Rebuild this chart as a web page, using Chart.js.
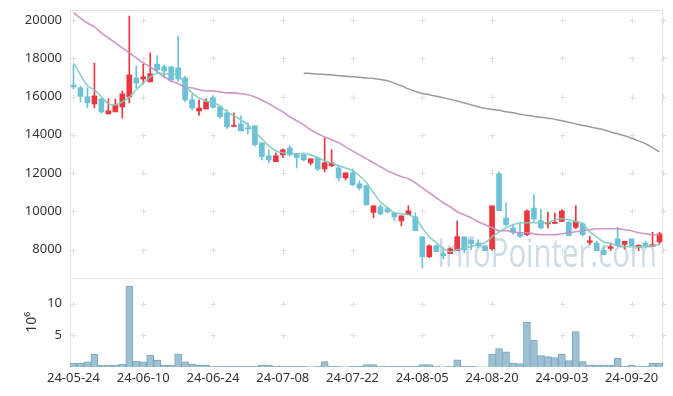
<!DOCTYPE html>
<html>
<head>
<meta charset="utf-8">
<script src="https://cdn.jsdelivr.net/npm/chart.js@4.4.1/dist/chart.umd.min.js"></script>
<style>
  html, body { margin: 0; padding: 0; background: #fff; }
  #wrap { position: relative; width: 673px; height: 396px; }
</style>
</head>
<body>
<div id="wrap"><canvas id="chart"></canvas></div>
<script>
/* ===== Daily candles + MA lines + volume panel ===== */
const dates = [
  "24-05-24","24-05-27","24-05-28","24-05-29","24-05-30","24-05-31","24-06-03","24-06-04","24-06-05","24-06-07",
  "24-06-10","24-06-11","24-06-12","24-06-13","24-06-14","24-06-17","24-06-18","24-06-19","24-06-20","24-06-21",
  "24-06-24","24-06-25","24-06-26","24-06-27","24-06-28","24-07-01","24-07-02","24-07-03","24-07-04","24-07-05",
  "24-07-08","24-07-09","24-07-10","24-07-11","24-07-12","24-07-15","24-07-16","24-07-17","24-07-18","24-07-19",
  "24-07-22","24-07-23","24-07-24","24-07-25","24-07-26","24-07-29","24-07-30","24-07-31","24-08-01","24-08-02",
  "24-08-05","24-08-06","24-08-07","24-08-08","24-08-09","24-08-12","24-08-13","24-08-14","24-08-16","24-08-19",
  "24-08-20","24-08-21","24-08-22","24-08-23","24-08-26","24-08-27","24-08-28","24-08-29","24-08-30","24-09-02",
  "24-09-03","24-09-04","24-09-05","24-09-06","24-09-09","24-09-10","24-09-11","24-09-12","24-09-13","24-09-19",
  "24-09-20","24-09-23","24-09-24","24-09-25","24-09-26"
];

const openP = [
  16600,16450,15980,15610,15880,15090,15200,15460,15980,16970,
  16920,16760,17700,17550,17550,17500,16970,15820,15250,15350,
  15930,15460,15150,14440,14570,14360,14470,13580,12900,12590,
  12950,13320,13010,12950,12530,12800,12220,12380,12270,11750,
  12010,11440,11340,9950,10240,10130,9920,9500,9820,9710,
  8670,7630,8200,7790,7790,7950,8670,8510,8360,8200,
  8040,11960,9650,9130,8900,8780,10170,9520,9340,9370,
  9470,9420,9160,9350,8380,8340,7960,8060,8570,8270,
  8570,8140,8340,8170,8400
];
const highP = [
  17650,16550,16450,17750,15900,15880,15880,16300,20200,17600,
  17700,18280,18130,17650,17550,19160,17050,16100,15820,15880,
  16030,15500,15300,15150,14990,14620,14470,13580,13220,13060,
  13270,13430,13010,13060,12740,12850,13840,13220,12430,12010,
  12220,11600,11340,10290,10340,10240,9920,9770,10290,9920,
  8670,8250,8250,8100,8090,9510,8670,8510,8510,8200,
  10290,12070,10450,9340,9400,10080,10870,10120,9960,9910,
  10080,9470,10290,9400,8690,8430,8200,8340,9160,8430,
  8570,8250,8430,8900,8900
];
const lowP = [
  16400,15720,15400,15400,15130,15090,15200,14870,15670,16450,
  16660,16760,17230,17000,16760,16800,15720,15300,15010,15350,
  15400,14870,14330,14440,14200,14050,13400,12690,12530,12590,
  12800,12900,12270,12640,12430,12120,12060,12330,11590,11640,
  11330,11120,10340,9660,9810,9920,9500,9240,9820,8990,
  7050,7580,7890,7520,7790,7950,7840,7990,8100,7950,
  7990,10030,9250,8800,8620,8730,9470,9080,9130,9370,
  9470,8730,9100,8700,8260,7940,7730,7960,8150,8030,
  8200,7940,8110,8170,8290
];
const closeP = [
  16500,16000,15670,16030,15200,15250,15560,16140,17130,16710,
  17030,17180,17390,17340,16870,16920,15820,15400,15400,15720,
  15430,14940,14420,14470,14200,14310,13480,12850,12690,12900,
  13210,12950,12800,12690,12740,12220,12530,12530,11750,12010,
  11390,11230,10340,10290,9870,9970,9710,9770,10030,8990,
  7630,8200,7890,7680,8040,8680,7990,8310,8200,7950,
  10290,10030,9300,8900,8690,10030,9600,9130,9420,9420,
  10030,8730,9470,8780,8460,7940,7730,8140,8200,8430,
  8200,8220,8200,8260,8830
];

const ma5 = [
  17740,17130,16560,16350,15980,15620,15560,15720,15980,16350,
  16710,17030,17230,17180,17180,17130,16610,16190,15930,15770,
  15670,15510,15200,14990,14780,14520,14150,13790,13420,13160,
  13060,13010,13010,13010,12950,12800,12640,12540,12380,12270,
  12120,11860,11490,10970,10500,10190,9930,9870,9820,9660,
  9140,8670,8360,8050,7890,7990,8100,8150,8260,8360,
  8670,8930,9140,9300,9400,9400,9400,9400,9400,9560,
  9610,9560,9460,9350,8930,8670,8410,8310,8200,8150,
  8150,8150,8150,8200,8260
];
const ma20 = [
  20380,20100,19840,19640,19320,19060,18800,18540,18280,18020,
  17760,17550,17290,17030,16820,16660,16500,16450,16350,16290,
  16290,16240,16190,16190,16140,16090,15980,15820,15620,15410,
  15200,14940,14730,14520,14260,14050,13890,13740,13580,13370,
  13160,12950,12740,12540,12330,12120,11960,11810,11700,11490,
  11230,10970,10710,10450,10240,9980,9820,9660,9460,9300,
  9140,8990,8990,8930,8880,8880,8830,8780,8780,8780,
  8830,8880,8930,8990,9040,9090,9090,9090,9090,9040,
  8990,8880,8830,8780,8780
];
const ma60 = [
  null,null,null,null,null,null,null,null,null,null,
  null,null,null,null,null,null,null,null,null,null,
  null,null,null,null,null,null,null,null,null,null,
  null,null,null,17220,17200,17180,17150,17120,17090,17060,
  17030,17000,16970,16940,16890,16820,16690,16560,16400,16270,
  16160,16090,16010,15930,15850,15770,15670,15560,15460,15380,
  15330,15280,15200,15150,15070,15020,14960,14910,14860,14810,
  14730,14650,14570,14490,14420,14340,14260,14150,14050,13950,
  13820,13680,13530,13320,13110
];

// volume, millions of shares
const volume = [
  0.63,0.63,0.8,2.05,0.3,0.3,0.3,0.45,12.8,0.95,
  0.8,1.9,1.1,0.3,0.3,2.05,0.8,0.45,0.3,0.3,
  0.15,0.15,0.15,0.15,0.15,0.15,0.15,0.3,0.3,0.15,
  0.15,0.15,0.15,0.15,0.01,0.15,0.85,0.15,0.15,0.01,
  0.15,0.15,0.37,0.37,0.15,0.15,0.15,0.15,0.15,0.15,
  0.37,0.37,0.15,0.01,0.15,1.15,0.15,0.15,0.01,0.01,
  2.05,2.9,2.4,0.63,0.53,7.1,4.26,1.8,1.63,1.47,
  2.05,1.0,5.58,0.84,0.32,0.32,0.32,0.32,1.42,0.15,
  0.32,0.15,0.15,0.63,0.63
];

const priceTicks = [8000, 10000, 12000, 14000, 16000, 18000, 20000];
const volumeTicks = [5, 10];

const RED = "#ea363c", BLUE = "#6cc1d9";
const FONT = "'Noto Sans', 'DejaVu Sans', sans-serif";
const candleColor = closeP.map((c, i) => (c >= openP[i] ? RED : BLUE));

// faint frame + "+" markers where ticks cross, plus the site watermark
const decor = {
  id: "decor",
  beforeDatasetsDraw(chart) {
    const { ctx, chartArea: a, scales } = chart;
    const py = scales.y, vy = scales.yv, sx = scales.x;
    ctx.save();
    ctx.lineWidth = 1;
    ctx.strokeStyle = "#e4e4e4";
    ctx.beginPath();
    ctx.moveTo(a.left + 0.5, a.top); ctx.lineTo(a.left + 0.5, a.bottom);
    ctx.moveTo(a.right - 0.5, a.top); ctx.lineTo(a.right - 0.5, a.bottom);
    ctx.moveTo(a.left, a.top + 0.5); ctx.lineTo(a.right, a.top + 0.5);
    ctx.moveTo(a.left, Math.round(py.bottom) + 0.5); ctx.lineTo(a.right, Math.round(py.bottom) + 0.5);
    ctx.stroke();

    const xs = dates.map((d, i) => i).filter((i) => i % 10 === 0).map((i) => sx.getPixelForValue(i));
    xs.push(a.right);
    const ys = priceTicks.map((v) => py.getPixelForValue(v)).concat(volumeTicks.map((v) => vy.getPixelForValue(v)));
    ctx.strokeStyle = "#e0e0e0";
    ctx.beginPath();
    xs.forEach((x) => ys.forEach((y) => {
      const cx = Math.round(x) + 0.5, cy = Math.round(y) + 0.5;
      ctx.moveTo(cx - 3, cy); ctx.lineTo(cx + 3, cy);
      ctx.moveTo(cx, cy - 3); ctx.lineTo(cx, cy + 3);
    }));
    ctx.stroke();

    // watermark
    const text = "InfoPointer.com";
    ctx.font = "40px 'Open Sans', sans-serif";
    const w = ctx.measureText(text).width;
    ctx.translate(a.right - 6, py.bottom - 11);
    ctx.scale(220 / w, 1);
    ctx.textAlign = "right";
    ctx.textBaseline = "alphabetic";
    ctx.fillStyle = "rgba(170,198,215,0.6)";
    ctx.fillText(text, 0, 0);
    ctx.restore();
  },
};

const tickFont = { family: FONT, size: 13 };
const noGrid = { display: false, drawTicks: false };
const fixY = (s) => { s.width = 70; s.paddingTop = 0; s.paddingBottom = 0; };

new Chart(document.getElementById("chart"), {
  data: {
    labels: dates,
    datasets: [
      { type: "line", label: "MA5", data: ma5, yAxisID: "y", order: 0,
        borderColor: "rgba(128,203,190,0.9)", borderWidth: 1.6, pointRadius: 0, tension: 0.35 },
      { type: "line", label: "MA20", data: ma20, yAxisID: "y", order: 0,
        borderColor: "rgba(200,140,200,0.9)", borderWidth: 1.6, pointRadius: 0, tension: 0.35 },
      { type: "line", label: "MA60", data: ma60, yAxisID: "y", order: 0,
        borderColor: "#9a9a9a", borderWidth: 1.5, pointRadius: 0, tension: 0.35 },
      { type: "bar", label: "range", data: lowP.map((l, i) => [l, highP[i]]), yAxisID: "y", order: 2,
        backgroundColor: candleColor, barThickness: 1, grouped: false },
      { type: "bar", label: "body", data: openP.map((o, i) => [o, closeP[i]]), yAxisID: "y", order: 1,
        backgroundColor: candleColor, barThickness: 5, minBarLength: 1, grouped: false },
      { type: "bar", label: "volume", data: volume, yAxisID: "yv", order: 3,
        backgroundColor: "#9dc1d2", borderColor: "#7aa6bc", borderWidth: 1,
        barPercentage: 1, categoryPercentage: 1, grouped: false },
    ],
  },
  options: {
    responsive: true, maintainAspectRatio: false, animation: false,
    layout: { padding: { top: 10, right: 10, left: 0, bottom: 0 } },
    plugins: { legend: { display: false }, tooltip: { enabled: false } },
    scales: {
      x: {
        offset: true,
        grid: noGrid, border: { display: false },
        ticks: { autoSkip: false, maxRotation: 0, minRotation: 0, padding: 3, color: "#333", font: tickFont,
          callback: (v, i) => (i % 10 === 0 ? dates[i] : null) },
        afterFit: (s) => { s.height = 29; },
      },
      yv: {
        position: "left", stack: "panels", stackWeight: 1, min: 0, max: 14.1,
        grid: noGrid, border: { display: false },
        ticks: { padding: 8, color: "#333", font: tickFont, callback: (v) => String(v) },
        afterBuildTicks: (s) => { s.ticks = volumeTicks.map((v) => ({ value: v })); },
        title: { display: true, text: "10⁶", color: "#333", font: { family: FONT, size: 14 }, padding: { top: 24, bottom: 0 } },
        afterFit: fixY,
      },
      y: {
        position: "left", stack: "panels", stackWeight: 3, min: 6530, max: 20520,
        grid: noGrid, border: { display: false },
        ticks: { padding: 8, color: "#333", font: tickFont, callback: (v) => String(v) },
        afterBuildTicks: (s) => { s.ticks = priceTicks.map((v) => ({ value: v })); },
        afterFit: fixY,
      },
    },
  },
  plugins: [decor],
});
</script>
</body>
</html>
